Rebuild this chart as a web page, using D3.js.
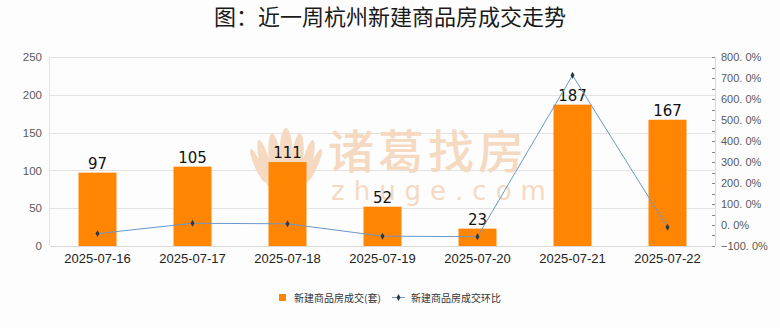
<!DOCTYPE html>
<html>
<head>
<meta charset="utf-8">
<script src="https://cdn.jsdelivr.net/npm/d3@7"></script>
<style>
  html, body { margin: 0; padding: 0; background: #fdfdfd; }
  svg { display: block; font-family: "Noto Sans CJK SC", "DejaVu Sans", sans-serif; }
</style>
</head>
<body>
<svg id="chart" width="780" height="328"></svg>
<script>
// Daily new-home transactions in Hangzhou, last week
const dates = ["2025-07-16", "2025-07-17", "2025-07-18", "2025-07-19", "2025-07-20", "2025-07-21", "2025-07-22"];
const units = [97, 105, 111, 52, 23, 187, 167];
// Day-over-day change, percent
const changePct = [-41.0, 8.2, 5.7, -53.2, -55.8, 713.0, -10.7];
const leftTicks = [0, 50, 100, 150, 200, 250];
const rightTicks = [-100, 0, 100, 200, 300, 400, 500, 600, 700, 800];

const titleText = "图：近一周杭州新建商品房成交走势";
const seriesNames = ["新建商品房成交(套)", "新建商品房成交环比"];

const svg = d3.select("#chart");
const W = 780, H = 328;
const plot = { left: 50, right: 715, top: 57, bottom: 246 };

const barColor = "#ff8503";
const lineColor = "#6a98cc";
const markerColor = "#2a3847";
const gridColor = "#e3e3e3";
const axisText = "#595959";

const x = d3.scaleBand().domain(dates).range([plot.left, plot.right])
  .paddingInner(0.6).paddingOuter(0.3);
const yL = d3.scaleLinear().domain([0, 250]).range([plot.bottom, plot.top]);
const yR = d3.scaleLinear().domain([-100, 800]).range([plot.bottom, plot.top]);

// Title
svg.append("text")
  .attr("x", W / 2).attr("y", 25)
  .attr("text-anchor", "middle")
  .attr("font-size", 22)
  .attr("fill", "#1a1a1a")
  .text(titleText);

// Horizontal gridlines on the left scale
svg.append("g").selectAll("line").data(leftTicks).join("line")
  .attr("x1", plot.left).attr("x2", plot.right)
  .attr("y1", d => Math.round(yL(d)) + 0.5).attr("y2", d => Math.round(yL(d)) + 0.5)
  .attr("stroke", gridColor).attr("stroke-width", 1);

// Plot frame side
svg.append("line")
  .attr("x1", plot.left - 0.5).attr("x2", plot.left - 0.5)
  .attr("y1", plot.top).attr("y2", plot.bottom)
  .attr("stroke", gridColor);

// Watermark (brand logo + name), behind the bars
const wm = svg.append("g").attr("fill", "#f5d8bd").attr("opacity", 0.95);
const logo = wm.append("g").attr("transform", "translate(286,160)");
const petals = [
  { dx: 0, rx: 7, ry: 32, rot: 0 },
  { dx: -11, rx: 6, ry: 29, rot: -6 },
  { dx: 11, rx: 6, ry: 29, rot: 6 },
  { dx: -21, rx: 5, ry: 25, rot: -14 },
  { dx: 21, rx: 5, ry: 25, rot: 14 },
  { dx: -28, rx: 3.5, ry: 18, rot: -24 },
  { dx: 28, rx: 3.5, ry: 18, rot: 24 }
];
logo.selectAll("ellipse").data(petals).join("ellipse")
  .attr("cx", 0).attr("cy", 0)
  .attr("rx", d => d.rx).attr("ry", d => d.ry)
  .attr("transform", d => `translate(${d.dx},${Math.abs(d.dx) * 0.2}) rotate(${d.rot})`);
logo.append("path").attr("d", "M-14,26 Q0,44 14,26 Q0,34 -14,26 Z");
wm.append("text")
  .attr("x", 328).attr("y", 168)
  .attr("font-size", 46).attr("font-weight", 500)
  .attr("letter-spacing", 4)
  .text("诸葛找房");
wm.append("text")
  .attr("x", 331).attr("y", 200)
  .attr("font-family", "DejaVu Sans, sans-serif")
  .attr("font-size", 26)
  .attr("letter-spacing", 9)
  .text("zhuge.com");

// Bars
svg.append("g").selectAll("rect").data(units).join("rect")
  .attr("x", (d, i) => x(dates[i]))
  .attr("y", d => yL(d))
  .attr("width", x.bandwidth())
  .attr("height", d => yL(0) - yL(d))
  .attr("fill", barColor);

// Bar value labels
svg.append("g").selectAll("text").data(units).join("text")
  .attr("x", (d, i) => x(dates[i]) + x.bandwidth() / 2)
  .attr("y", d => yL(d) - 4)
  .attr("text-anchor", "middle")
  .attr("font-family", "DejaVu Sans, sans-serif")
  .attr("font-size", 15)
  .attr("fill", "#111")
  .text(d => d);

// Baseline
svg.append("line")
  .attr("x1", plot.left).attr("x2", plot.right)
  .attr("y1", plot.bottom + 0.5).attr("y2", plot.bottom + 0.5)
  .attr("stroke", "#d9d9d9");

// Left axis
const axL = svg.append("g").attr("transform", `translate(${plot.left - 6},0)`)
  .call(d3.axisLeft(yL).tickValues(leftTicks).tickSize(0).tickPadding(2));
axL.select(".domain").remove();
axL.selectAll("text").attr("font-family", "Liberation Sans, Arial, sans-serif")
  .attr("font-size", 11.5).attr("fill", axisText);

// Right axis with minor ticks
const axR = svg.append("g").attr("transform", `translate(${plot.right},0)`);
axR.append("line")
  .attr("x1", 0.5).attr("x2", 0.5).attr("y1", plot.top).attr("y2", plot.bottom)
  .attr("stroke", "#d9d9d9");
const minor = d3.range(-100, 801, 50);
axR.selectAll("line.tk").data(minor).join("line").attr("class", "tk")
  .attr("x1", -3).attr("x2", 0)
  .attr("y1", d => Math.round(yR(d)) + 0.5).attr("y2", d => Math.round(yR(d)) + 0.5)
  .attr("stroke", "#888");
axR.selectAll("text").data(rightTicks).join("text")
  .attr("x", 6).attr("y", d => yR(d)).attr("dy", "0.35em")
  .attr("font-family", "Liberation Sans, Arial, sans-serif")
  .attr("font-size", 11).attr("fill", axisText)
  .text(d => d3.format(".1f")(d).replace(".", ". ") + "%");

// X axis labels
svg.append("g").selectAll("text").data(dates).join("text")
  .attr("x", d => x(d) + x.bandwidth() / 2)
  .attr("y", 263)
  .attr("text-anchor", "middle")
  .attr("font-family", "Liberation Sans, Arial, sans-serif")
  .attr("font-size", 13).attr("fill", "#222")
  .text(d => d);

// Change line with markers
const line = d3.line()
  .x((d, i) => x(dates[i]) + x.bandwidth() / 2)
  .y(d => yR(d));
svg.append("path").datum(changePct)
  .attr("d", line)
  .attr("fill", "none").attr("stroke", lineColor).attr("stroke-width", 1);
const diamond = d3.symbol().type(d3.symbolDiamond).size(14);
svg.append("g").selectAll("path").data(changePct).join("path")
  .attr("d", diamond)
  .attr("transform", (d, i) => `translate(${x(dates[i]) + x.bandwidth() / 2},${yR(d)})`)
  .attr("fill", markerColor);

// Legend
const lg = svg.append("g").attr("font-size", 10).attr("fill", "#333");
lg.append("rect").attr("x", 279).attr("y", 294).attr("width", 7).attr("height", 7).attr("fill", barColor);
lg.append("text").attr("x", 294).attr("y", 301.5).attr("fill", "#333").text(seriesNames[0]);
lg.append("line").attr("x1", 392).attr("x2", 405).attr("y1", 297.5).attr("y2", 297.5)
  .attr("stroke", lineColor);
lg.append("path").attr("d", diamond).attr("transform", "translate(398.5,297.5)").attr("fill", markerColor);
lg.append("text").attr("x", 411).attr("y", 301.5).attr("fill", "#333").text(seriesNames[1]);
</script>
</body>
</html>
